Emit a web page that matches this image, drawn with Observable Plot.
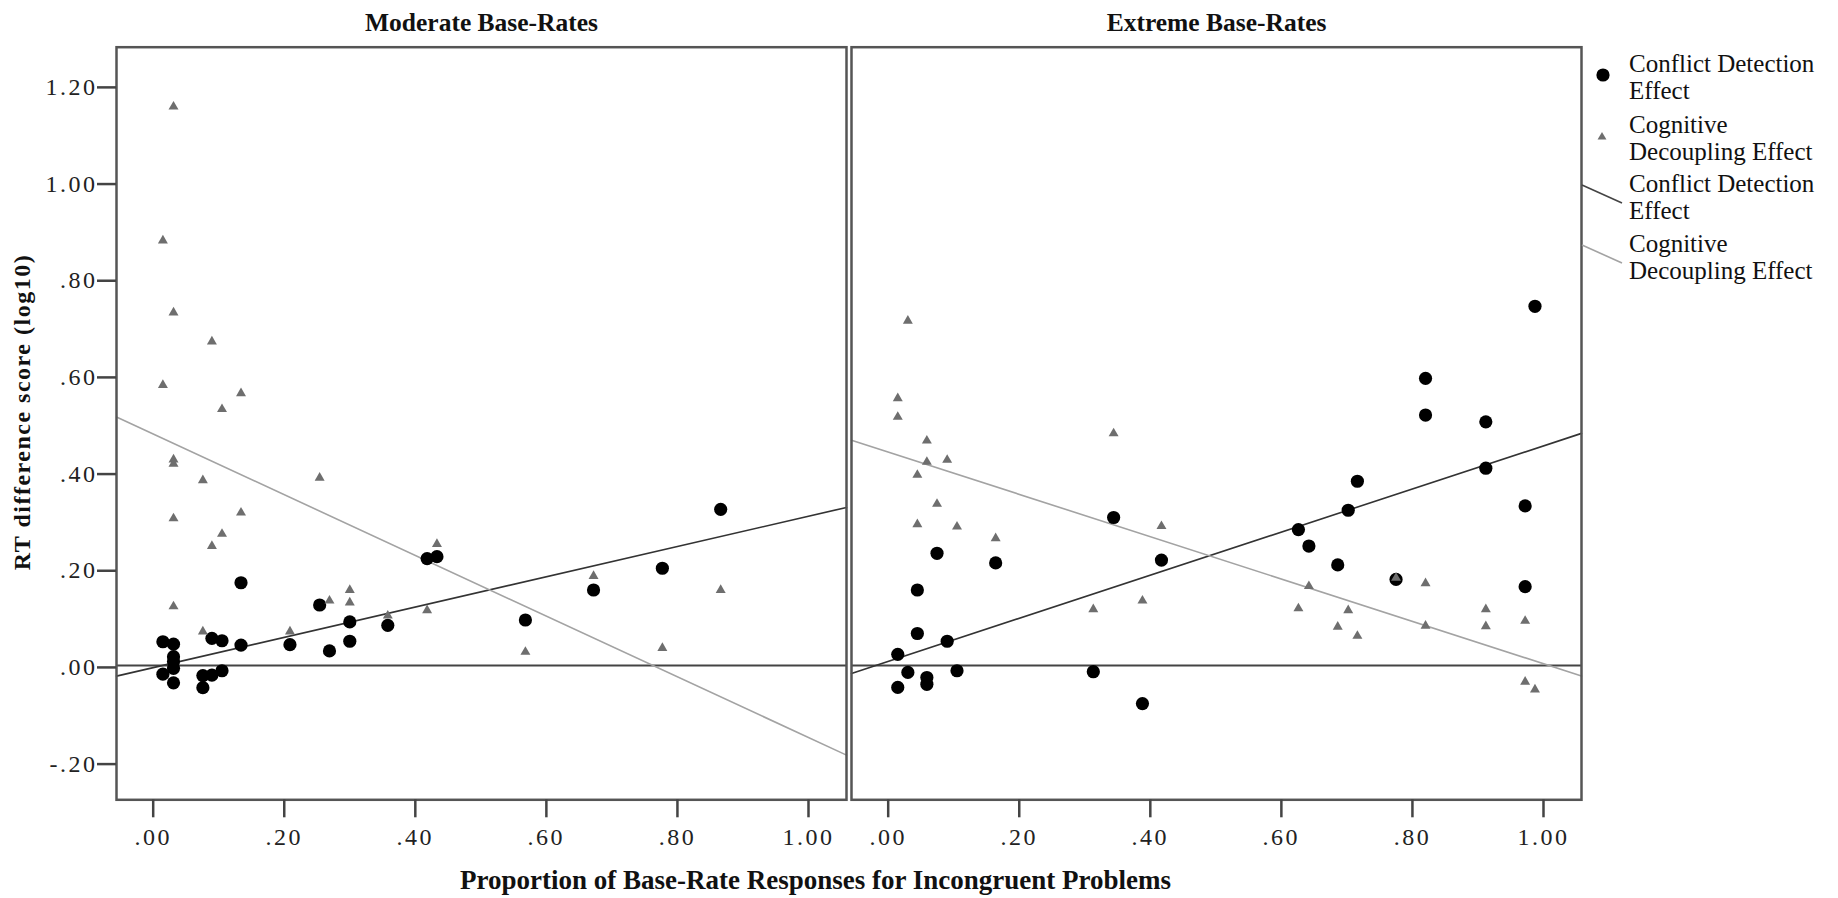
<!DOCTYPE html>
<html>
<head>
<meta charset="utf-8">
<script src="https://cdn.jsdelivr.net/npm/d3@7"></script>
<script src="https://cdn.jsdelivr.net/npm/@observablehq/plot@0.6"></script>
<style>
  body { margin: 0; background: #fff; }
  #wrap { position: relative; width: 1838px; height: 898px; }
  #wrap > svg.chart { position: absolute; left: 0; top: 0; }
  g[aria-label="x-axis tick label"] text, g[aria-label="y-axis tick label"] text { letter-spacing: 2.5px; }
  #legend text { font-family: "Liberation Serif", serif; font-size: 25px; fill: #111; }
</style>
</head>
<body>
<div id="wrap"></div>
<script>
// ---------- data ----------
const panels = ["Moderate Base-Rates", "Extreme Base-Rates"];
const seriesNames = ["Conflict Detection Effect", "Cognitive Decoupling Effect"];

// Moderate base-rates: Conflict Detection Effect (circles)
const modCdX = [0.0148,0.031,0.031,0.031,0.031,0.0148,0.031,0.0758,0.0758,0.0896,0.0896,0.105,0.105,0.134,0.134,0.2087,0.254,0.269,0.30,0.30,0.358,0.418,0.433,0.568,0.672,0.777,0.866];
const modCdY = [0.049,0.044,0.018,0.008,-0.006,-0.018,-0.036,-0.021,-0.046,-0.020,0.056,0.051,-0.011,0.171,0.042,0.043,0.125,0.030,0.090,0.050,0.083,0.221,0.225,0.094,0.156,0.201,0.323];
// Moderate base-rates: Cognitive Decoupling Effect (triangles)
const modCogX = [0.031,0.0148,0.031,0.0896,0.0148,0.134,0.105,0.031,0.031,0.0758,0.254,0.031,0.134,0.105,0.0896,0.433,0.031,0.269,0.30,0.30,0.0758,0.2087,0.358,0.418,0.568,0.672,0.777,0.866];
const modCogY = [1.156,0.879,0.730,0.670,0.580,0.563,0.530,0.426,0.417,0.383,0.388,0.304,0.316,0.272,0.247,0.251,0.122,0.134,0.156,0.130,0.070,0.070,0.103,0.114,0.028,0.185,0.036,0.156];
// Extreme base-rates: Conflict Detection Effect (circles)
const extCdX = [0.987,0.820,0.820,0.912,0.912,0.716,0.702,0.972,0.344,0.626,0.642,0.417,0.0745,0.164,0.686,0.775,0.972,0.0445,0.0445,0.090,0.0146,0.030,0.059,0.059,0.105,0.0146,0.313,0.388];
const extCdY = [0.743,0.594,0.518,0.504,0.408,0.381,0.321,0.330,0.306,0.281,0.247,0.218,0.232,0.212,0.208,0.178,0.163,0.156,0.066,0.050,0.023,-0.0145,-0.025,-0.039,-0.011,-0.0455,-0.013,-0.079];
// Extreme base-rates: Cognitive Decoupling Effect (triangles)
const extCogX = [0.030,0.0146,0.0146,0.059,0.344,0.059,0.090,0.0445,0.0745,0.0445,0.105,0.164,0.417,0.388,0.313,0.626,0.642,0.702,0.686,0.716,0.775,0.820,0.820,0.912,0.912,0.972,0.972,0.987];
const extCogY = [0.713,0.5525,0.514,0.465,0.480,0.421,0.425,0.394,0.334,0.292,0.287,0.263,0.288,0.134,0.116,0.118,0.164,0.114,0.080,0.061,0.181,0.170,0.082,0.116,0.081,0.092,-0.034,-0.050];

// Linear fit lines (intercept, slope) per panel and series
const fitPanel = [0, 0, 1, 1];
const fitSeries = [0, 1, 0, 1];
const fitIntercept = [-0.0046, 0.4788, 0.0084, 0.4415];
const fitSlope = [0.3133, -0.628, 0.4458, -0.438];

// Axes
const xTicks = [0, 0.2, 0.4, 0.6, 0.8, 1.0];
const yTicks = [-0.2, 0, 0.2, 0.4, 0.6, 0.8, 1.0, 1.2];
const xDomain = [-0.056, 1.058];
const yDomain = [-0.278, 1.279];

const xTitle = "Proportion of Base-Rate Responses for Incongruent Problems";
const yTitle = "RT difference score (log10)";

// ---------- build tables ----------
function rows(panel, series, xs, ys) {
  return xs.map((x, i) => ({panel, series, x, y: ys[i]}));
}
const cdRows = [...rows(panels[0], seriesNames[0], modCdX, modCdY), ...rows(panels[1], seriesNames[0], extCdX, extCdY)];
const cogRows = [...rows(panels[0], seriesNames[1], modCogX, modCogY), ...rows(panels[1], seriesNames[1], extCogX, extCogY)];
const fitRows = [];
fitPanel.forEach((p, i) => {
  xDomain.forEach(x => fitRows.push({panel: panels[p], series: seriesNames[fitSeries[i]], x, y: fitIntercept[i] + fitSlope[i] * x}));
});

const fmt = d => {
  const s = d3.format(".2f")(Math.abs(d)).replace(/^0\./, ".");
  return d < 0 ? "-" + s : s;
};
const lineColor = {"Conflict Detection Effect": "#333333", "Cognitive Decoupling Effect": "#a3a3a3"};

const chart = Plot.plot({
  className: "chart",
  width: 1838,
  height: 898,
  marginLeft: 115.7,
  marginRight: 256.3,
  marginTop: 46.7,
  marginBottom: 98.7,
  style: {fontFamily: "'Liberation Serif', 'Times New Roman', serif", background: "white", color: "#222", overflow: "visible"},
  x: {domain: xDomain, label: null},
  y: {domain: yDomain, label: null},
  fx: {domain: panels, paddingInner: 0.0068, paddingOuter: 0, axis: null, label: null},
  marks: [
    Plot.ruleY([0], {stroke: "#444", strokeWidth: 2}),
    Plot.line(fitRows, {fx: "panel", x: "x", y: "y", z: "series", stroke: d => lineColor[d.series], strokeWidth: 1.6}),
    Plot.dot(cdRows, {fx: "panel", x: "x", y: "y", r: 6.6, fill: "#000", stroke: "none"}),
    Plot.dot(cogRows, {fx: "panel", x: "x", y: "y", symbol: "triangle", r: 3.7, fill: "#6e6e6e", stroke: "none"}),
    Plot.frame({stroke: "#555", strokeWidth: 2.5}),
    Plot.axisX({ticks: xTicks, tickFormat: fmt, tickSize: 18, tickPadding: 10, fontSize: 24, stroke: "#444", strokeWidth: 2.5, fill: "#222", label: null}),
    Plot.axisY({ticks: yTicks, tickFormat: fmt, tickSize: 19, tickPadding: 0, fontSize: 24, dy: 2, stroke: "#444", strokeWidth: 2.5, fill: "#222", label: null}),
    Plot.text(panels, {fx: d => d, text: d => d, frameAnchor: "top", lineAnchor: "bottom", dy: -16, fontWeight: "bold", fontSize: 25.5, fill: "#111"}),
    Plot.text([xTitle], {fx: () => panels[0], text: d => d, frameAnchor: "bottom-right", textAnchor: "middle", lineAnchor: "bottom", dx: -31, dy: 88.7, fontWeight: "bold", fontSize: 27, fill: "#111"})
  ]
});
document.getElementById("wrap").appendChild(chart);

// y-axis title (rotated), centred on the label position of the reference
d3.select(chart).append("text")
  .attr("transform", "translate(30,412) rotate(-90)")
  .attr("text-anchor", "middle")
  .attr("font-family", "'Liberation Serif', 'Times New Roman', serif")
  .attr("font-weight", "bold")
  .attr("font-size", 24)
  .attr("letter-spacing", "1.5px")
  .attr("fill", "#111")
  .text(yTitle);

// ---------- legend (right side) ----------
const legendEntries = [
  {kind: "circle", lines: ["Conflict Detection", "Effect"]},
  {kind: "triangle", lines: ["Cognitive", "Decoupling Effect"]},
  {kind: "darkline", lines: ["Conflict Detection", "Effect"]},
  {kind: "lightline", lines: ["Cognitive", "Decoupling Effect"]}
];
const lg = d3.select("#wrap").append("svg").attr("id", "legend").attr("width", 278).attr("height", 300)
  .style("position", "absolute").style("left", "1560px").style("top", "0px");
const baselines = [72, 133, 192, 252];
legendEntries.forEach((e, i) => {
  const b = baselines[i];
  const t = lg.append("text").attr("x", 69).attr("y", b);
  e.lines.forEach((ln, j) => t.append("tspan").attr("x", 69).attr("y", b + j * 27).text(ln));
  if (e.kind === "circle") lg.append("circle").attr("cx", 43).attr("cy", b + 3).attr("r", 6.6).attr("fill", "#000");
  if (e.kind === "triangle") lg.append("path").attr("d", d3.symbol(d3.symbolTriangle, 34)()).attr("transform", `translate(42,${b + 4})`).attr("fill", "#6e6e6e");
  if (e.kind === "darkline") lg.append("line").attr("x1", 22).attr("y1", b - 7).attr("x2", 62).attr("y2", b + 11).attr("stroke", "#444").attr("stroke-width", 1.6);
  if (e.kind === "lightline") lg.append("line").attr("x1", 22).attr("y1", b - 7).attr("x2", 62).attr("y2", b + 11).attr("stroke", "#a3a3a3").attr("stroke-width", 1.6);
});
</script>
</body>
</html>
